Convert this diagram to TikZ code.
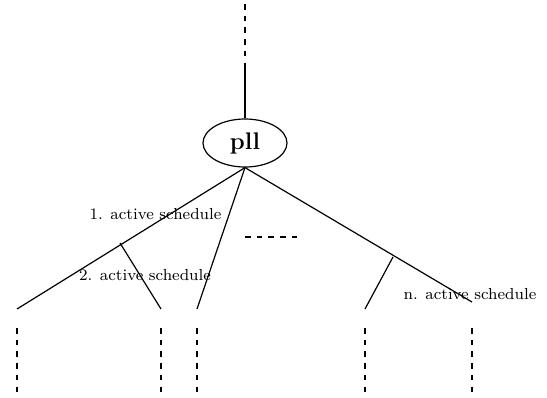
\documentclass[tikz,border=0pt]{standalone}
\usetikzlibrary{shapes.geometric}
\begin{document}
\begin{tikzpicture}[x=1pt,y=-1pt,
  ln/.style={line width=1.2pt},
  dl/.style={line width=1.1pt,dash pattern=on 5.5pt off 6.2pt},
  lab/.style={inner sep=0pt}]
\useasboundingbox (0,0) rectangle (547,397);
\newcommand{\labtxt}[1]{\scalebox{2.0}{\fontsize{8}{10}\selectfont #1}}
\node[ellipse,draw,line width=1.2pt,minimum width=84pt,minimum height=48pt,inner sep=0pt,font=\fontsize{24}{28}\selectfont\bfseries] (pll) at (245,143) {pll};
\coordinate (top) at (245,4);
\coordinate (mid) at (245,64);
\coordinate (a) at (17,309);
\coordinate (b) at (197,309);
\coordinate (c) at (472,302);
\coordinate (ab) at (120,243);
\coordinate (ab2) at (161,309);
\coordinate (cb) at (393,257);
\coordinate (cb2) at (365,309);
\draw[dl] (top) -- (mid);
\draw[ln] (mid) -- (pll.north);
\draw[ln] (pll.south) -- (a);
\draw[ln] (pll.south) -- (b);
\draw[ln] (pll.south) -- (c);
\draw[ln] (ab) -- (ab2);
\draw[ln] (cb) -- (cb2);
\coordinate (d1) at (245,237);
\coordinate (d2) at (301,237);
\draw[dl] (d1) -- (d2);
\foreach \x/\n in {17/v1,161/v2,197/v3,365/v4,472/v5}{
  \coordinate (\n t) at (\x,328);
  \coordinate (\n b) at (\x,397);
  \draw[dl] (\n t) -- (\n b);
}
\node[lab] (l1) at (155.5,214) {\labtxt{1. active schedule}};
\node[lab] (l2) at (145,275) {\labtxt{2. active schedule}};
\node[lab] (l3) at (470,294) {\labtxt{n. active schedule}};
\end{tikzpicture}
\end{document}
